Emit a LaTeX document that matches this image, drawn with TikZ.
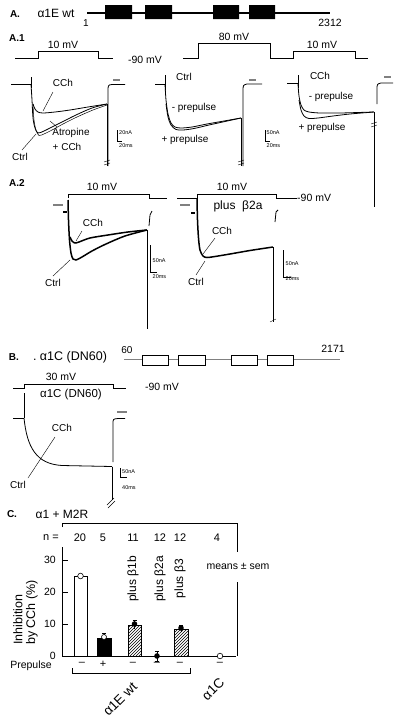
\documentclass[tikz,border=0pt]{standalone}
\usepackage{fontspec}
\setmainfont{Liberation Sans}
\usetikzlibrary{patterns}
\newcommand\myfs[1]{\fontsize{#1}{#1}\selectfont}
\begin{document}
\begin{tikzpicture}[x=1pt,y=-1pt,
  lbl/.style={font=\myfs{10},inner sep=0pt},
  tiny/.style={font=\myfs{5.5},inner sep=0pt,anchor=west},
  panel/.style={font=\bfseries\myfs{10},inner sep=0pt},
  proto/.style={line width=0.6pt},
  trace/.style={line width=0.8pt},
  heavy/.style={line width=1.5pt},
  ptr/.style={line width=0.4pt},
  gbar/.style={gray,line width=1.6pt},
  sbar/.style={line width=0.5pt},
  brk/.style={line width=0.4pt},
  errb/.style={line width=0.6pt},
  opendot/.style={draw,fill=white,line width=0.6pt},
  axis/.style={line width=0.7pt}]
\useasboundingbox (0,0) rectangle (400,720);

% ---------------- header A ----------------
\node[panel] (pA) at (15,14) {A.};
\node[lbl,font=\myfs{12}] (aEwt) at (56,13) {α1E wt};
\draw[line width=2pt] (87,12.5) -- (330,12.5);
\fill (105,5) rectangle (132,19) (145,5) rectangle (172,19)
      (213,5) rectangle (239,19) (249,5) rectangle (275,19);
\node[lbl] (one) at (86,23) {1};
\node[lbl,font=\myfs{10.5}] (n2312) at (330,23) {2312};

% ---------------- A.1 ----------------
\node[panel] (pA1) at (17,38) {A.1};
\draw[proto] (15,58) -- (38,58) -- (38,51) -- (98,51) -- (98,58) -- (113,58);
\node[lbl,font=\myfs{10.5}] (v1) at (63,45) {10 mV};
\node[lbl,font=\myfs{10.5}] (v90a) at (145,60) {-90 mV};
\draw[proto] (183,58) -- (198,58) -- (198,43) -- (270,43) -- (270,58) -- (293,58) -- (293,51) -- (355,51) -- (355,58) -- (368,58);
\node[lbl,font=\myfs{10.5}] (v80) at (234,37) {80 mV};
\node[lbl,font=\myfs{10.5}] (v2) at (322,45) {10 mV};

% trace A.1 left
\draw[trace] (11,84) -- (31,84);
\draw[trace] (31,77) -- (31,88);
\draw[trace] plot[smooth,tension=0.5] coordinates {(31,84) (32,100) (33,118) (35,128) (38,133) (44,131) (52,127) (62,122) (76,115) (92,108) (107,104)};
\draw[line width=0.5pt] plot[smooth,tension=0.5] coordinates {(33,104) (34,120) (36,130) (39,135.5) (45,133.5) (53,129.5) (63,124) (77,117) (93,110) (107,105)};
\draw[trace] plot[smooth,tension=0.5] coordinates {(33,104) (35,109) (38,112) (43,113) (55,112) (70,110) (88,107) (107,104)};
\draw[trace] (107,104) -- (107,166);
\draw[trace] (108,166) -- (108,92) .. controls (108,85) .. (112,84.5) -- (125,84.5);
\draw[brk] (104,162) -- (110,160) (104,165) -- (110,163);
\draw[gbar] (113,80) -- (120,80);
\node[lbl] (l1cch) at (63,83) {CCh};
\node[lbl] (l1atr) at (71,133) {Atropine};
\node[lbl] (l1acc) at (67,147) {+ CCh};
\node[lbl] (l1ctrl) at (20,157) {Ctrl};
\coordinate (p1a) at (43,111);
\coordinate (p1b) at (50,121);
\coordinate (p1c) at (36,134);
\draw[ptr] (53,92) -- (p1a);
\draw[ptr] (57,127) -- (p1b);
\draw[ptr] (22,150) -- (p1c);
\draw[sbar] (117.5,130) -- (117.5,141) -- (122,141);
\node[tiny] (s1a) at (119,133) {20nA};
\node[tiny] (s1b) at (119,146) {20ms};

% trace A.1 middle
\draw[trace] (155,84) -- (165,84);
\draw[trace] (165,75) -- (165,90);
\draw[trace] plot[smooth,tension=0.5] coordinates {(165,84) (166,100) (168,114) (171,123) (175,127) (181,128) (192,127) (207,124) (224,121) (241,118)};
\draw[trace] plot[smooth,tension=0.5] coordinates {(166,104) (168,117) (171,125) (176,129.5) (183,130) (194,128.5) (209,125) (225,121.5) (241,118)};
\draw[trace] (241,118) -- (241,166);
\draw[trace] (243,166) -- (243,92) .. controls (243,85) .. (247,84) -- (262,84);
\draw[brk] (238,162) -- (244,160) (238,165) -- (244,163);
\draw[gbar] (249,80) -- (256,80);
\node[lbl] (l2ctrl) at (184,77) {Ctrl};
\node[lbl] (l2m) at (194,108) {- prepulse};
\node[lbl] (l2p) at (185,140) {+ prepulse};
\draw[sbar] (265,130) -- (265,141) -- (270,141);
\node[tiny] (s2a) at (266.5,133) {50nA};
\node[tiny] (s2b) at (266.5,146) {20ms};

% trace A.1 right
\draw[trace] (287,83) -- (298,83);
\draw[trace] (298,75) -- (298,88);
\draw[trace] plot[smooth,tension=0.5] coordinates {(298,84) (299,96) (301,105) (304,110) (309,112) (320,113) (340,113) (358,112.5) (374,112)};
\draw[trace] plot[smooth,tension=0.5] coordinates {(299,100) (301,110) (304,116) (309,118.5) (318,118) (333,116) (350,114) (374,112)};
\draw[trace] (374,112) -- (374,207);
\draw[brk] (371,124) -- (377,122) (371,127) -- (377,125);
\draw[trace] (377,104) -- (377,90) .. controls (377,84) .. (381,83) -- (393,83);
\draw[gbar] (384,77) -- (391,77);
\node[lbl] (l3cch) at (320,76) {CCh};
\node[lbl] (l3m) at (331,97) {- prepulse};
\node[lbl] (l3p) at (322,128) {+ prepulse};

% ---------------- A.2 ----------------
\node[panel] (pA2) at (17,183) {A.2};
\draw[proto] (68,198) -- (68,194) -- (149,194) -- (149,198) -- (167,198);
\node[lbl,font=\myfs{10.5}] (v3) at (102,187) {10 mV};
\draw[proto] (177,198) -- (197,198) -- (197,194) -- (276,194) -- (276,198) -- (297,198);
\node[lbl,font=\myfs{10.5}] (v4) at (232,187) {10 mV};
\node[lbl,font=\myfs{10.5},anchor=west] (v90b) at (297,198) {-90 mV};
\node[lbl,font=\myfs{12}] (pb2a) at (238,206) {plus\ \ β2a};

% trace A.2 left
\draw[gbar] (53,205) -- (63,205);
\draw[line width=2pt] (63,212) -- (67,212);
\draw[heavy] plot[smooth,tension=0.5] coordinates {(68,200) (68.5,220) (69.5,240) (71,253) (73,259) (76,260) (82,257) (92,251) (106,244) (125,236) (147,230)};
\draw[heavy] plot[smooth,tension=0.5] coordinates {(70,237) (72,241) (75,243) (79,242) (90,238) (108,235) (128,232) (147,230)};
\draw[trace] (147,230) -- (147,329);
\draw[trace] (149,226) -- (150,215) -- (152,211);
\node[lbl] (l4cch) at (93,223) {CCh};
\node[lbl] (l4ctrl) at (53,283) {Ctrl};
\coordinate (p4a) at (76,241);
\coordinate (p4b) at (70,260);
\draw[ptr] (82,231) -- (p4a);
\draw[ptr] (53,276) -- (p4b);
\draw[sbar] (150,245) -- (150,272) -- (157,272);
\node[tiny] (s4a) at (152.5,261) {50nA};
\node[tiny] (s4b) at (152.5,277) {20ms};

% trace A.2 right
\draw[gbar] (180,205) -- (190,205);
\draw[line width=2pt] (191,213) -- (195,213);
\draw[heavy] plot[smooth,tension=0.5] coordinates {(197,199) (197.5,220) (198.5,238) (200,250) (203,256) (207,257.5) (215,256.5) (230,254) (250,250.5) (273,247)};
\draw[trace] (273,247) -- (273,322);
\draw[brk] (270,322) -- (276,319);
\draw[trace] (275,222) -- (276,212) -- (278,210);
\node[lbl] (l5cch) at (222,231) {CCh};
\node[lbl] (l5ctrl) at (196,282) {Ctrl};
\coordinate (p5a) at (203,254);
\coordinate (p5b) at (205,261);
\draw[ptr] (215,238) -- (p5a);
\draw[ptr] (196,275) -- (p5b);
\draw[sbar] (283,250) -- (283,277) -- (291,277);
\node[tiny] (s5a) at (285.5,264) {50nA};
\node[tiny] (s5b) at (285.5,279) {20ms};

% ---------------- B ----------------
\node[panel] (pB) at (14,357) {B.};
\node[lbl,font=\myfs{12.5}] (bname) at (70,357) {.\ α1C (DN60)};
\node[lbl] (n60) at (127,350) {60};
\node[lbl,font=\myfs{10.5}] (n2171) at (333,349) {2171};
\draw[gray,line width=0.7pt] (124,359) -- (340,359);
\draw[line width=0.6pt,fill=white] (142,355) rectangle (168,365) (178,355) rectangle (205,365)
      (231,355) rectangle (257,365) (267,355) rectangle (293,365);
\draw[proto] (13,388) -- (24,388) -- (24,384) -- (113,384) -- (113,388) -- (126,388);
\node[lbl,font=\myfs{10.5}] (v30) at (61,377) {30 mV};
\node[lbl,font=\myfs{11.5}] (bname2) at (71,395) {α1C (DN60)};
\node[lbl,font=\myfs{10.5}] (v90c) at (162,387) {-90 mV};
\draw[trace] (13,418) -- (24,418);
\draw[trace] (24,393) -- (24,418);
\draw[trace] (24,418) .. controls (27,447) and (36,464) .. (62,465.5) -- (112,466.5);
\draw[trace] (112,466.5) -- (112,500);
\draw[brk] (107,505) -- (114,498) (108,508) -- (115,501);
\draw[trace] (113,462) -- (113,424) .. controls (113,419) .. (118,418.5) -- (125,418.5);
\draw[gbar] (117,412) -- (127,412);
\node[lbl] (l6cch) at (62,428) {CCh};
\node[lbl] (l6ctrl) at (18,485) {Ctrl};
\coordinate (p6) at (28,478);
\draw[ptr] (55,437) -- (p6);
\draw[sbar] (120,468) -- (120,477) -- (127,477);
\node[tiny] (s6a) at (122,472) {50nA};
\node[tiny] (s6b) at (122,488) {40ms};

% ---------------- C ----------------
\node[panel] (pC) at (12,514) {C.};
\node[lbl,font=\myfs{12}] (cname) at (62,514) {α1 + M2R};
\draw[axis] (62,527) -- (62,523) -- (237,523) -- (237,552);
\draw[axis] (237,582) -- (237,656);
\node[lbl,font=\myfs{11}] (nn) at (51,538) {n =};
\foreach \xx/\tt [count=\i] in {80/20,103/5,133/11,160/12,180/12,217/4}
  \node[lbl,font=\myfs{11}] (nc\i) at (\xx,538) {\tt};
\draw[axis] (62,547) -- (62,656);
\foreach \yy/\tt in {560/30,592/20,624/10,656/0}{
  \draw[axis] (62,\yy) -- (68,\yy);
  \node[lbl,font=\myfs{10.5},anchor=east] at (56,\yy) {\tt};
}
\node[lbl,font=\myfs{12.5},rotate=90,anchor=west] (ylab1) at (18,645) {Inhibition};
\node[lbl,font=\myfs{12.5},rotate=90,anchor=west] (ylab2) at (32,645) {by CCh (\%)};
% bars
\draw[line width=0.7pt] (74,656) rectangle (87,576);
\draw[opendot] (80.5,576) circle (2.8);
\draw[errb] (104,633) -- (104,638) (102,633) -- (106,633);
\filldraw[line width=0.7pt] (97,656) rectangle (111,638);
\draw[opendot] (104,637) circle (2.5);
\draw[line width=0.7pt,pattern=north east lines] (128,656) rectangle (141,625);
\draw[errb] (134.5,620) -- (134.5,629) (132.5,620) -- (136.5,620);
\fill (134.5,624) circle (2.8);
\draw[line width=0.7pt,pattern=north east lines] (174,656) rectangle (188,629);
\draw[errb] (181,625) -- (181,632) (179,625) -- (183,625);
\fill (181,628) circle (2.8);
\draw[errb] (157,651) -- (157,661) (155,651) -- (159,651) (155,661) -- (159,661);
\fill (157,656) circle (2.8);
\draw[axis] (62,656) -- (236,656);
\draw[opendot] (220,656) circle (2.8);
\node[lbl,font=\myfs{12},rotate=90,anchor=east] (b1b) at (133,556) {plus β1b};
\node[lbl,font=\myfs{12},rotate=90,anchor=east] (b2a) at (160,556) {plus β2a};
\node[lbl,font=\myfs{12},rotate=90,anchor=east] (b3) at (180,559) {plus β3};
\node[lbl,font=\myfs{10.5},fill=white,inner sep=1pt] (msem) at (238,566) {means ± sem};
% prepulse row
\node[lbl,font=\myfs{10.5}] (prep) at (31,666) {Prepulse};
\foreach \xx/\tt [count=\i] in {82/–,103/+,133/–,157/–,180/–,220/–}
  \node[lbl,font=\myfs{11}] (pp\i) at (\xx,664) {\tt};
\draw[line width=0.5pt] (72,668) -- (72,673) -- (190,673) -- (190,668);
\node[lbl,font=\myfs{13.5},rotate=45] (gE) at (120,699) {α1E wt};
\node[lbl,font=\myfs{13.5},rotate=45] (gC) at (213,689) {α1C};
\end{tikzpicture}
\end{document}
